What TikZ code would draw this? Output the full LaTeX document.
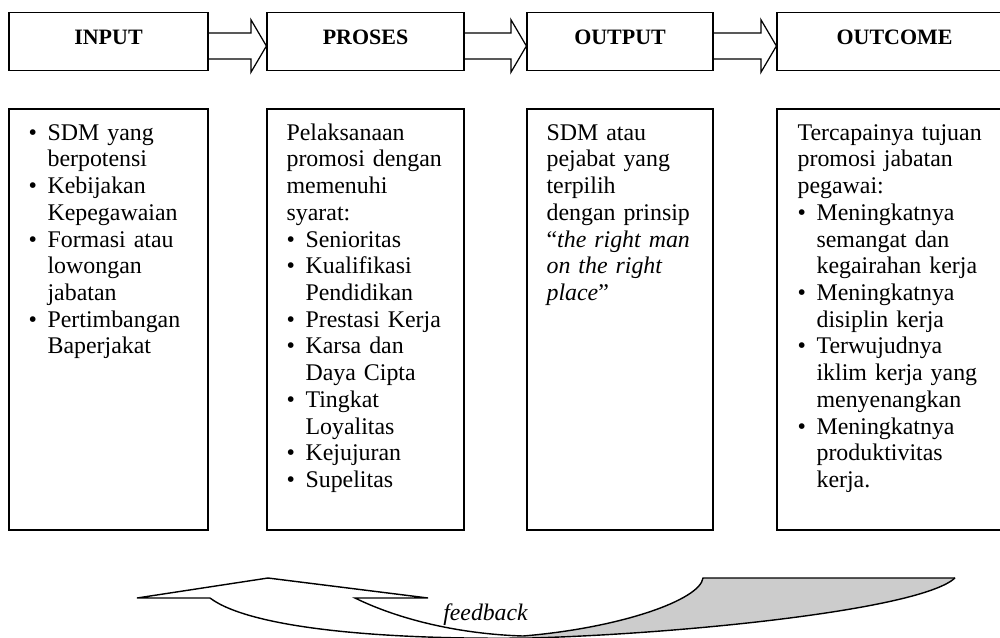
\documentclass[tikz,border=0pt]{standalone}
\usepackage{fontspec}
\setmainfont{Liberation Serif}
\usetikzlibrary{positioning, calc}

\newcommand{\itm}{\makebox[0.38cm][l]{\textbullet}}
\newcommand{\cont}{\hspace*{0.38cm}}

\begin{document}
\begin{tikzpicture}[x=0.02cm, y=-0.02cm,
        headbox/.style={draw, line width=0.7pt, minimum height=1.16cm, inner sep=0pt,
            font=\fontsize{12.5}{15}\selectfont\bfseries, text depth=0.16cm},
        listbox/.style={draw, line width=0.9pt, minimum height=8.42cm, inner sep=0pt},
        listtext/.style={anchor=base west, inner sep=0pt, text width=4cm, align=left,
            font=\fontsize{13.6}{15.2}\selectfont},
        blockarrow/.style={draw, line width=0.7pt},
        fbline/.style={draw, line width=0.8pt, line join=miter}
    ]
        \useasboundingbox (0,0) rectangle (1000,637);

        % Kotak judul
        \node [headbox, minimum width=3.98cm] (input) at (108.5,41.7) {INPUT};
        \node [headbox, minimum width=3.94cm] (proses) at (365.5,41.7) {PROSES};
        \node [headbox, minimum width=3.72cm] (output) at (620,41.7) {OUTPUT};
        \node [headbox, minimum width=4.70cm] (outcome) at (894.5,41.7) {OUTCOME};

        % Panah blok antar kotak
        \foreach \a/\b in {input/proses, proses/output, output/outcome}
            \draw[blockarrow] let \p1=($(\a.east)+(0,4.3)$), \p2=(\b.west) in
                (\x1,\y1+0.26cm) -- (\x2-0.31cm,\y1+0.26cm) -- (\x2-0.31cm,\y1+0.527cm)
                -- (\x2,\y1) -- (\x2-0.31cm,\y1-0.527cm) -- (\x2-0.31cm,\y1-0.26cm)
                -- (\x1,\y1-0.26cm);

        % Kotak isi
        \node [listbox, minimum width=3.98cm] (inlist) at (108.5,319.5) {};
        \node [listbox, minimum width=3.94cm] (proslist) at (365.5,319.5) {};
        \node [listbox, minimum width=3.72cm] (outlist) at (620,319.5) {};
        \node [listbox, minimum width=4.70cm] (ocomelist) at (894.5,319.5) {};

        \node [listtext] (intext) at ($(inlist.north west)+(20,32)$) {%
            \itm SDM yang\\ \cont berpotensi\\ \itm Kebijakan\\ \cont Kepegawaian\\
            \itm Formasi atau\\ \cont lowongan\\ \cont jabatan\\
            \itm Pertimbangan\\ \cont Baperjakat};
        \node [listtext] (prostext) at ($(proslist.north west)+(20,32)$) {%
            Pelaksanaan\\ promosi dengan\\ memenuhi\\ syarat:\\
            \itm Senioritas\\ \itm Kualifikasi\\ \cont Pendidikan\\
            \itm Prestasi Kerja\\ \itm Karsa dan\\ \cont Daya Cipta\\
            \itm Tingkat\\ \cont Loyalitas\\ \itm Kejujuran\\ \itm Supelitas};
        \node [listtext] (outtext) at ($(outlist.north west)+(20,32)$) {%
            SDM atau\\ pejabat yang\\ terpilih\\ dengan prinsip\\
            ``\textit{the right man}\\ \textit{on the right}\\ \textit{place}''};
        \node [listtext] (ocometext) at ($(ocomelist.north west)+(21,32)$) {%
            Tercapainya tujuan\\ promosi jabatan\\ pegawai:\\
            \itm Meningkatnya\\ \cont semangat dan\\ \cont kegairahan kerja\\
            \itm Meningkatnya\\ \cont disiplin kerja\\
            \itm Terwujudnya\\ \cont iklim kerja yang\\ \cont menyenangkan\\
            \itm Meningkatnya\\ \cont produktivitas\\ \cont kerja.};

        % Panah feedback
        \fill[gray!40] (523,636) .. controls (620,628) and (700,600) .. (703,578)
            -- (955,578) .. controls (920,610) and (680,634) .. (530,638) -- cycle;
        \draw[fbline] (210,598) -- (137,598) -- (268,578) -- (428,598) -- (355,598)
            .. controls (400,620) and (460,634) .. (523,636)
            .. controls (620,628) and (700,600) .. (703,578) -- (955,578);
        \draw[fbline] (210,598) .. controls (250,628) and (380,640) .. (530,638)
            .. controls (680,634) and (920,610) .. (955,578);
        \node [anchor=base, inner sep=0pt, font=\fontsize{13.5}{15}\selectfont\itshape]
            (feedback) at (485.5,620) {feedback};
    \end{tikzpicture}
\end{document}
